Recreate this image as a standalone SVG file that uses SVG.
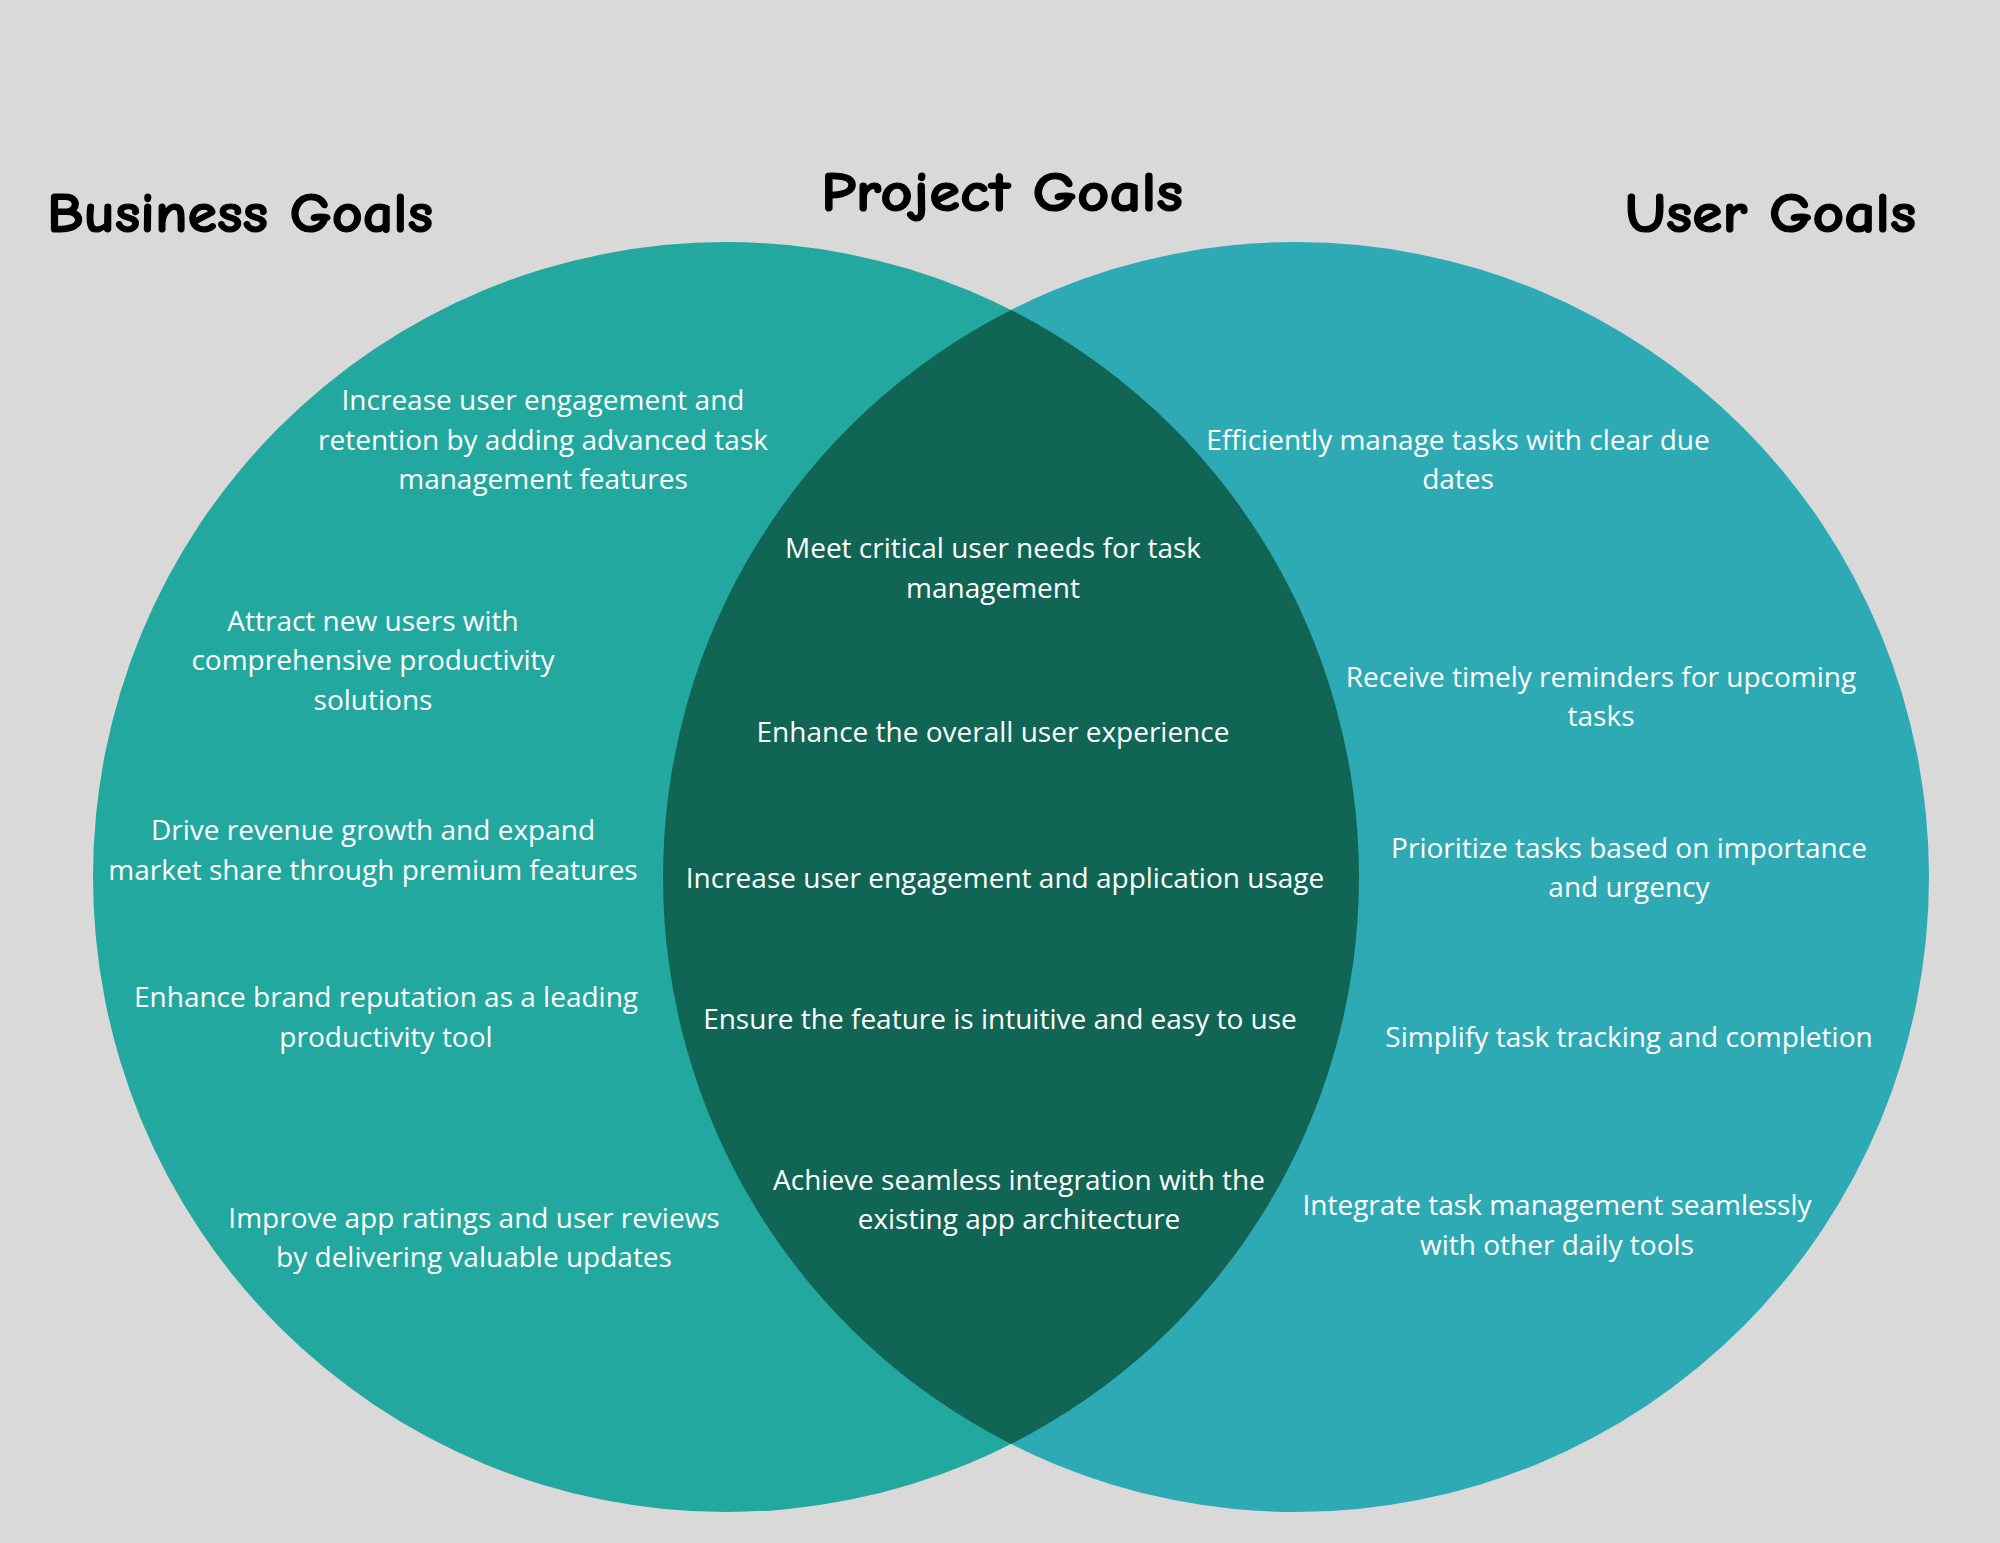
<svg xmlns="http://www.w3.org/2000/svg" width="2000" height="1543" viewBox="0 0 2000 1543">
  <style>
    .title { font-family: "Comic Sans MS", "Comic Neue", "DejaVu Sans", sans-serif; font-weight: bold; fill: #000000; stroke: #000000; stroke-width: 1.2; }
    .item { font-family: "Open Sans", "Noto Sans", "Liberation Sans", sans-serif; font-size: 28px; fill: #ffffff; text-anchor: middle; }
  </style>
  <rect width="2000" height="1543" fill="#d9d9d9"/>

  <!-- Venn circles -->
  <g id="business-circle">
    <ellipse cx="726" cy="877" rx="633" ry="635" fill="#22a89e"/>
  </g>
  <g id="user-circle">
    <ellipse cx="1296" cy="877" rx="633" ry="635" fill="#2eaab4"/>
  </g>
  <!-- overlap lens (intersection of both circles) -->
  <g id="project-overlap">
    <path d="M 1011 310 A 633 635 0 0 0 1011 1444 A 633 635 0 0 0 1011 310 Z" fill="#116555"/>
  </g>

  <!-- headings -->
  <g id="titles">
    <text class="title" x="47" y="232" font-size="57" textLength="386" lengthAdjust="spacingAndGlyphs">Business Goals</text>
    <text class="title" x="821" y="211" font-size="57" textLength="362" lengthAdjust="spacingAndGlyphs">Project Goals</text>
    <text class="title" x="1625" y="232" font-size="57" textLength="291" lengthAdjust="spacingAndGlyphs">User Goals</text>
  </g>

  <!-- business goals -->
  <g id="business-goals">
    <text class="item" x="543" y="409.5">Increase user engagement and</text>
    <text class="item" x="543" y="449.5">retention by adding advanced task</text>
    <text class="item" x="543" y="488.5">management features</text>

    <text class="item" x="373" y="630.5">Attract new users with</text>
    <text class="item" x="373" y="669.5">comprehensive productivity</text>
    <text class="item" x="373" y="709.5">solutions</text>

    <text class="item" x="373" y="839.5">Drive revenue growth and expand</text>
    <text class="item" x="373" y="879.5">market share through premium features</text>

    <text class="item" x="386" y="1006.5">Enhance brand reputation as a leading</text>
    <text class="item" x="386" y="1046.5">productivity tool</text>

    <text class="item" x="474" y="1227.5">Improve app ratings and user reviews</text>
    <text class="item" x="474" y="1266.5">by delivering valuable updates</text>
  </g>

  <!-- project goals -->
  <g id="project-goals">
    <text class="item" x="993" y="557.5">Meet critical user needs for task</text>
    <text class="item" x="993" y="597.5">management</text>

    <text class="item" x="993" y="741.5">Enhance the overall user experience</text>

    <text class="item" x="1005" y="887.5">Increase user engagement and application usage</text>

    <text class="item" x="1000" y="1028.5">Ensure the feature is intuitive and easy to use</text>

    <text class="item" x="1019" y="1189.5">Achieve seamless integration with the</text>
    <text class="item" x="1019" y="1228.5">existing app architecture</text>
  </g>

  <!-- user goals -->
  <g id="user-goals">
    <text class="item" x="1458" y="449.5">Efficiently manage tasks with clear due</text>
    <text class="item" x="1458" y="488.5">dates</text>

    <text class="item" x="1601" y="686.5">Receive timely reminders for upcoming</text>
    <text class="item" x="1601" y="725.5">tasks</text>

    <text class="item" x="1629" y="857.5">Prioritize tasks based on importance</text>
    <text class="item" x="1629" y="896.5">and urgency</text>

    <text class="item" x="1629" y="1046.5">Simplify task tracking and completion</text>

    <text class="item" x="1557" y="1214.5">Integrate task management seamlessly</text>
    <text class="item" x="1557" y="1254.5">with other daily tools</text>
  </g>

  <!-- no connectors in this diagram -->
  <g id="connectors"/>
</svg>
